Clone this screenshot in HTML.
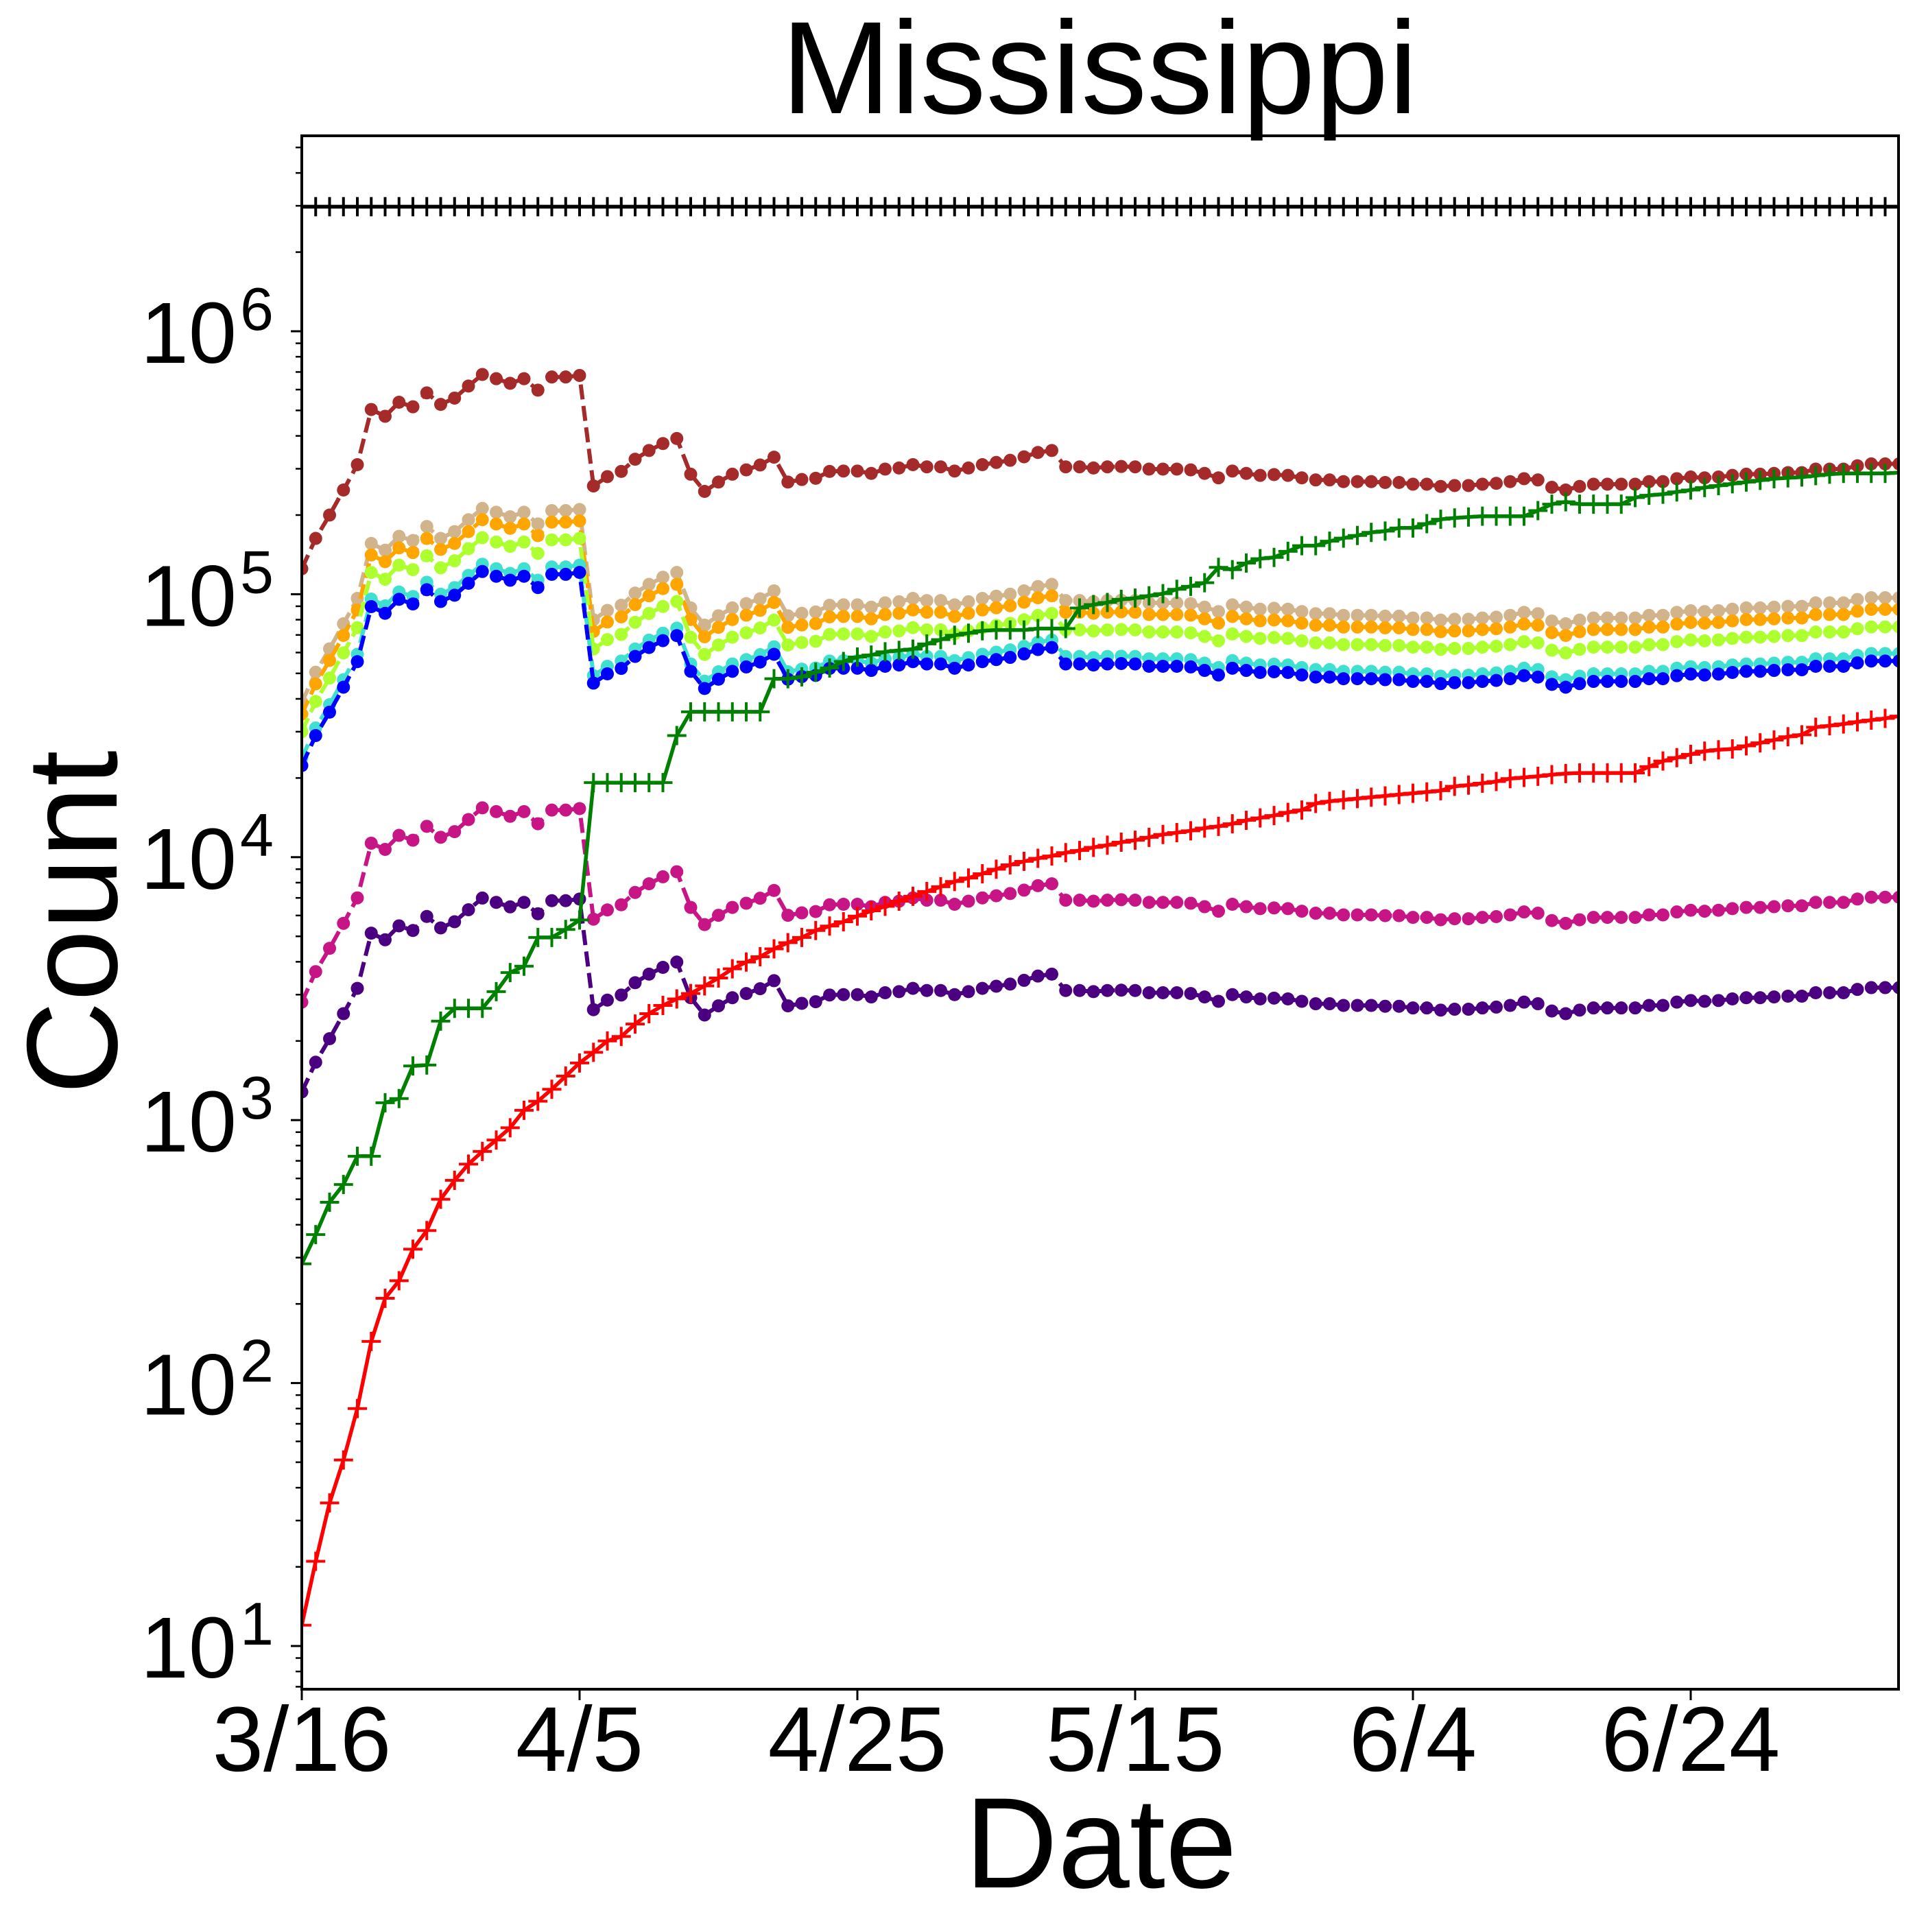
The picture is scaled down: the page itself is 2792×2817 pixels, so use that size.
<!DOCTYPE html>
<html><head><meta charset="utf-8"><title>Mississippi</title>
<style>
html,body{margin:0;padding:0;background:#fff;}
svg{display:block;font-family:"Liberation Sans","DejaVu Sans",sans-serif;}
</style></head>
<body>
<svg id="chart" width="2792" height="2817" viewBox="0 0 2792 2817" xmlns="http://www.w3.org/2000/svg">
<rect x="0" y="0" width="2792" height="2817" fill="#fff"/>
<text x="1603" y="165" font-size="192" text-anchor="middle" fill="#000">Mississippi</text>
<text x="1605" y="2752" font-size="188" text-anchor="middle" fill="#000">Date</text>
<text x="0" y="0" font-size="188" text-anchor="middle" fill="#000" transform="translate(170,1345) rotate(-90)">Count</text>
<g id="plot"></g>
<g id="axes"></g>
</svg>
<script>
// ---- data (days since 3/16) ----
const xTickLabels = ["3/16","4/5","4/25","5/15","6/4","6/24"];
const xTickDays = [0,20,40,60,80,100];
const yTickExps = [1,2,3,4,5,6];
const population = 2976149;
// values in thousands
const brownK = [125,163,200,249,311,504,475,537,516,583,527,557,619,685,660,634,660,597,670,670,679,258,280,293,326,352,374,391,286,246,267,286,297,310,332,267,273,276,293,294,294,288,299,302,311,305,305,294,302,311,317,323,333,346,352,305,305,302,305,306,305,299,299,299,297,288,277,294,288,283,285,283,277,272,272,268,268,268,266,266,262,262,257,259,259,262,264,268,275,272,255,249,257,262,262,262,262,268,268,275,279,277,279,283,286,286,288,290,290,299,299,299,308,313,313,313];
const tanK = [38.8,50.5,62.0,77.2,96.4,156,147,166,160,181,163,173,192,212,205,197,205,185,208,208,210,80.0,86.8,90.8,101,109,116,121,88.7,76.3,82.8,88.7,92.1,96.1,103,82.8,84.6,85.6,90.8,91.1,91.1,89.3,92.7,93.6,96.4,94.6,94.6,91.1,93.6,96.4,98.3,100,103,107,109,94.6,94.6,93.6,94.6,94.9,94.6,92.7,92.7,92.7,92.1,89.3,85.9,91.1,89.3,87.7,88.4,87.7,85.9,84.3,84.3,83.1,83.1,83.1,82.5,82.5,81.2,81.2,79.7,80.3,80.3,81.2,81.8,83.1,85.3,84.3,79.1,77.2,79.7,81.2,81.2,81.2,81.2,83.1,83.1,85.3,86.5,85.9,86.5,87.7,88.7,88.7,89.3,89.9,89.9,92.7,92.7,92.7,95.5,97.0,97.0,97.0];
const orangeK = [35.0,45.6,56.0,69.7,87.1,141,133,150,144,163,148,156,173,192,185,178,185,167,188,188,190,72.2,78.4,82.0,91.3,98.6,105,109,80.1,68.9,74.8,80.1,83.2,86.8,93.0,74.8,76.4,77.3,82.0,82.3,82.3,80.6,83.7,84.6,87.1,85.4,85.4,82.3,84.6,87.1,88.8,90.4,93.2,96.9,98.6,85.4,85.4,84.6,85.4,85.7,85.4,83.7,83.7,83.7,83.2,80.6,77.6,82.3,80.6,79.2,79.8,79.2,77.6,76.2,76.2,75.0,75.0,75.0,74.5,74.5,73.4,73.4,72.0,72.5,72.5,73.4,73.9,75.0,77.0,76.2,71.4,69.7,72.0,73.4,73.4,73.4,73.4,75.0,75.0,77.0,78.1,77.6,78.1,79.2,80.1,80.1,80.6,81.2,81.2,83.7,83.7,83.7,86.2,87.6,87.6,87.6];
const ygK = [30.0,39.1,48.0,59.8,74.6,121,114,129,124,140,126,134,149,164,158,152,158,143,161,161,163,61.9,67.2,70.3,78.2,84.5,89.8,93.8,68.6,59.0,64.1,68.6,71.3,74.4,79.7,64.1,65.5,66.2,70.3,70.6,70.6,69.1,71.8,72.5,74.6,73.2,73.2,70.6,72.5,74.6,76.1,77.5,79.9,83.0,84.5,73.2,73.2,72.5,73.2,73.4,73.2,71.8,71.8,71.8,71.3,69.1,66.5,70.6,69.1,67.9,68.4,67.9,66.5,65.3,65.3,64.3,64.3,64.3,63.8,63.8,62.9,62.9,61.7,62.2,62.2,62.9,63.4,64.3,66.0,65.3,61.2,59.8,61.7,62.9,62.9,62.9,62.9,64.3,64.3,66.0,67.0,66.5,67.0,67.9,68.6,68.6,69.1,69.6,69.6,71.8,71.8,71.8,73.9,75.1,75.1,75.1];
const turqK = [23.8,31.0,38.0,47.3,59.1,95.8,90.3,102,98.0,111,100,106,118,130,125,120,125,113,127,127,129,49.0,53.2,55.7,61.9,66.9,71.1,74.3,54.3,46.7,50.7,54.3,56.4,58.9,63.1,50.7,51.9,52.4,55.7,55.9,55.9,54.7,56.8,57.4,59.1,58.0,58.0,55.9,57.4,59.1,60.2,61.4,63.3,65.7,66.9,58.0,58.0,57.4,58.0,58.1,58.0,56.8,56.8,56.8,56.4,54.7,52.6,55.9,54.7,53.8,54.2,53.8,52.6,51.7,51.7,50.9,50.9,50.9,50.5,50.5,49.8,49.8,48.8,49.2,49.2,49.8,50.2,50.9,52.3,51.7,48.5,47.3,48.8,49.8,49.8,49.8,49.8,50.9,50.9,52.3,53.0,52.6,53.0,53.8,54.3,54.3,54.7,55.1,55.1,56.8,56.8,56.8,58.5,59.5,59.5,59.5];
const blueK = [22.3,29.0,35.6,44.3,55.4,89.7,84.6,95.6,91.8,104,93.8,99.1,110,122,117,113,117,106,119,119,121,45.9,49.8,52.2,58.0,62.7,66.6,69.6,50.9,43.8,47.5,50.9,52.9,55.2,59.1,47.5,48.6,49.1,52.2,52.3,52.3,51.3,53.2,53.8,55.4,54.3,54.3,52.3,53.8,55.4,56.4,57.5,59.3,61.6,62.7,54.3,54.3,53.8,54.3,54.5,54.3,53.2,53.2,53.2,52.9,51.3,49.3,52.3,51.3,50.4,50.7,50.4,49.3,48.4,48.4,47.7,47.7,47.7,47.3,47.3,46.6,46.6,45.7,46.1,46.1,46.6,47.0,47.7,49.0,48.4,45.4,44.3,45.7,46.6,46.6,46.6,46.6,47.7,47.7,49.0,49.7,49.3,49.7,50.4,50.9,50.9,51.3,51.6,51.6,53.2,53.2,53.2,54.8,55.7,55.7,55.7];
const magentaK = [2.81,3.67,4.50,5.60,7.00,11.3,10.7,12.1,11.6,13.1,11.9,12.5,13.9,15.4,14.9,14.3,14.9,13.4,15.1,15.1,15.3,5.81,6.30,6.59,7.34,7.92,8.42,8.80,6.44,5.54,6.01,6.44,6.68,6.98,7.47,6.01,6.14,6.21,6.59,6.62,6.62,6.48,6.73,6.80,7.00,6.86,6.86,6.62,6.80,7.00,7.13,7.27,7.49,7.79,7.92,6.86,6.86,6.80,6.86,6.89,6.86,6.73,6.73,6.73,6.68,6.48,6.23,6.62,6.48,6.37,6.41,6.37,6.23,6.12,6.12,6.03,6.03,6.03,5.99,5.99,5.90,5.90,5.78,5.83,5.83,5.90,5.94,6.03,6.19,6.12,5.74,5.60,5.78,5.90,5.90,5.90,5.90,6.03,6.03,6.19,6.28,6.23,6.28,6.37,6.44,6.44,6.48,6.53,6.53,6.73,6.73,6.73,6.93,7.04,7.04,7.04];
const indigoK = [1.28,1.66,2.04,2.54,3.17,5.14,4.85,5.48,5.26,5.95,5.38,5.68,6.31,6.99,6.73,6.47,6.73,6.09,6.83,6.83,6.93,2.63,2.86,2.99,3.33,3.59,3.81,3.99,2.92,2.51,2.72,2.92,3.03,3.16,3.39,2.72,2.78,2.82,2.99,3.00,3.00,2.94,3.05,3.08,3.17,3.11,3.11,3.00,3.08,3.17,3.23,3.29,3.40,3.53,3.59,3.11,3.11,3.08,3.11,3.12,3.11,3.05,3.05,3.05,3.03,2.94,2.83,3.00,2.94,2.89,2.91,2.89,2.83,2.77,2.77,2.73,2.73,2.73,2.71,2.71,2.67,2.67,2.62,2.64,2.64,2.67,2.69,2.73,2.81,2.77,2.60,2.54,2.62,2.67,2.67,2.67,2.67,2.73,2.73,2.81,2.85,2.83,2.85,2.89,2.92,2.92,2.94,2.96,2.96,3.05,3.05,3.05,3.14,3.19,3.19,3.19];
// values in counts
const greenVals = [284,367,487,569,729,729,1164,1208,1607,1620,2380,2660,2660,2660,3080,3640,3850,4950,4950,5310,5770,19200,19200,19200,19200,19200,19200,29000,35700,35700,35700,35700,35700,35700,47700,47700,48500,50500,52400,55500,57700,58700,60400,61100,61800,64700,67200,69800,71100,72600,73100,73100,73100,74000,74000,74000,88600,91300,93000,95600,96600,98600,100500,104400,107200,110600,126500,124000,131300,136500,138000,145600,153000,153000,159000,163400,167200,171800,173800,178600,178600,185500,192700,195000,196500,198000,198000,198000,198000,208000,220000,224600,220000,220000,220000,220000,233000,237800,240000,245000,249000,254500,258700,263000,267000,271000,275000,277000,279000,282500,286000,288000,288000,288000,288000,290000];
const redVals = [12,21,35,51,80,144,210,245,323,380,500,590,680,760,840,935,1090,1180,1310,1470,1650,1810,2000,2080,2320,2540,2730,2890,3030,3240,3470,3760,3990,4180,4480,4730,4950,5260,5470,5680,5970,6250,6500,6800,7100,7400,7720,8080,8330,8650,9000,9350,9640,9900,10100,10400,10600,10900,11100,11400,11600,11900,12200,12400,12600,12900,13100,13400,13800,14100,14400,14800,15100,16000,16300,16500,16700,16900,17100,17300,17500,17700,17900,18600,18800,19100,19400,19900,20100,20300,20600,20800,20900,20900,20900,20900,20900,22100,23200,23900,24600,25300,25600,25800,26500,27200,27900,28700,29200,31200,31600,32100,32700,33200,33700,34400];

// ---- geometry ----
const X0 = 440, X1 = 2768, YT = 198, YB = 2463;
const DAYPX = 20.25, Y6 = 483, DEC = 383.4;
const NS = "http://www.w3.org/2000/svg";
function xs(d){ return X0 + d*DAYPX; }
function ys(v){ return Y6 + (6 - Math.log10(v))*DEC; }
function mk(tag, attrs, parent){
  const e = document.createElementNS(NS, tag);
  for (const k in attrs) e.setAttribute(k, attrs[k]);
  parent.appendChild(e);
  return e;
}
const plot = document.getElementById('plot');
const axes = document.getElementById('axes');
const defs = mk('defs', {}, plot);
const cp = mk('clipPath', {id:'clip'}, defs);
mk('rect', {x:X0, y:YT, width:X1-X0, height:YB-YT}, cp);
const clipG = mk('g', {'clip-path':'url(#clip)'}, plot);

function dotSeries(name, vals, scale, color){
  const g = mk('g', {}, clipG);
  
  
  const pts = vals.map((v,i)=> xs(i).toFixed(1)+','+ys(v*scale).toFixed(1)).join(' ');
  const line = mk('polyline', {points:pts, fill:'none', stroke:color, 'stroke-width':6, 'stroke-dasharray':'22,9.5', 'stroke-linejoin':'round'}, g);
  
  
  vals.forEach((v,i)=>{
    const c = mk('circle', {cx:xs(i), cy:ys(v*scale), r:9.5, fill:color}, g);
    
    
  });
}
function plusSeries(name, vals, color){
  const g = mk('g', {}, clipG);
  
  
  const pts = vals.map((v,i)=> xs(i).toFixed(1)+','+ys(v).toFixed(1)).join(' ');
  const line = mk('polyline', {points:pts, fill:'none', stroke:color, 'stroke-width':5.5, 'stroke-linejoin':'round'}, g);
  
  
  vals.forEach((v,i)=>{
    const x = xs(i), y = ys(v);
    const p = mk('path', {d:`M${x-14},${y}H${x+14}M${x},${y-14}V${y+14}`, stroke:color, 'stroke-width':4, fill:'none'}, g);
    
    
  });
}
dotSeries('brown', brownK, 1000, '#a52a2a');
dotSeries('tan', tanK, 1000, '#d2b48c');
dotSeries('orange', orangeK, 1000, '#ffa500');
dotSeries('greenyellow', ygK, 1000, '#adff2f');
dotSeries('turquoise', turqK, 1000, '#40e0d0');
dotSeries('blue', blueK, 1000, '#0000ff');
dotSeries('magenta', magentaK, 1000, '#c71585');
dotSeries('indigo', indigoK, 1000, '#4b0082');
plusSeries('green', greenVals, '#008000');
plusSeries('red', redVals, '#ff0000');
plusSeries('population', brownK.map(()=>population), '#000000');

// ---- axes ----
const frame = mk('rect', {x:X0, y:YT, width:X1-X0, height:YB-YT, fill:'none', stroke:'#000', 'stroke-width':4}, axes);


xTickDays.forEach((d,i)=>{
  const x = xs(d);
  const t = mk('line', {x1:x, y1:YB, x2:x, y2:YB+16, stroke:'#000', 'stroke-width':3}, axes);
  
  
  const lb = mk('text', {x:x, y:2582, 'font-size':134, 'text-anchor':'middle', fill:'#000'}, axes);
  lb.textContent = xTickLabels[i];
  
  
});
yTickExps.forEach(e=>{
  const y = ys(Math.pow(10,e));
  const t = mk('line', {x1:X0-16, y1:y, x2:X0, y2:y, stroke:'#000', 'stroke-width':3}, axes);
  
  
  const lb = mk('text', {x:345, y:y+46, 'font-size':126, 'text-anchor':'end', fill:'#000'}, axes);
  lb.textContent = '10';
  
  
  const sp = mk('text', {x:350, y:y-2, 'font-size':88, 'text-anchor':'start', fill:'#000'}, axes);
  sp.textContent = String(e);
  
  
});
for (let e=0; e<=6; e++){
  for (let m=2; m<=9; m++){
    const v = m*Math.pow(10,e);
    const y = ys(v);
    if (y < YT || y > YB) continue;
    const t = mk('line', {x1:X0-9, y1:y, x2:X0, y2:y, stroke:'#000', 'stroke-width':2.5}, axes);
    
    
  }
}
</script>
</body></html>
